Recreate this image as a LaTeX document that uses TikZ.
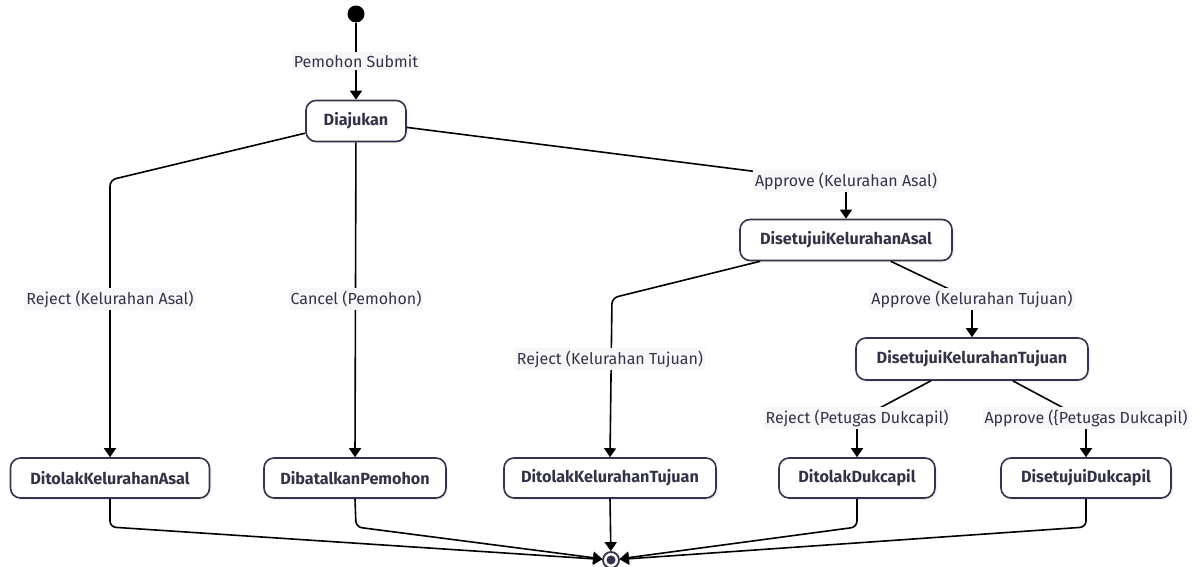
\documentclass[tikz,border=0pt]{standalone}
\usepackage{fontspec}
\setmainfont{Fira Sans}
\usetikzlibrary{arrows.meta,shadows}
\definecolor{boxline}{HTML}{33334D}
\definecolor{txt}{HTML}{333348}
\definecolor{lblbg}{HTML}{F7F7F9}
\begin{document}
\begin{tikzpicture}[x=1pt,y=-1pt,
  state/.style={draw=boxline, line width=1.6pt, fill=white, rounded corners=10pt,
    minimum height=41pt, inner sep=0pt, text=txt,
    font=\fontsize{16.2}{19}\selectfont\bfseries,
    drop shadow={opacity=0.12, shadow xshift=2pt, shadow yshift=-2pt}},
  lbl/.style={fill=lblbg, inner xsep=2pt, inner ysep=3pt, text=txt,
    font=\fontsize{16}{19}\selectfont},
  edge/.style={draw=black, line width=1.6pt, rounded corners=6pt},
  arr/.style={edge, -{Triangle[length=9pt,width=12pt]}}]
\useasboundingbox (0,0) rectangle (1202,567);

% start and end pseudo-states
\node[circle, fill=black, minimum size=17pt, inner sep=0pt] (start) at (356,14) {};
\node[circle, draw=boxline, line width=1.8pt, fill=white, minimum size=16pt, inner sep=0pt] (fin) at (611,560) {};
\fill[boxline] (fin.center) circle (4.5pt);

% states
\node[state, minimum width=100pt] (dj)   at (356,121) {Diajukan};
\node[state, minimum width=212pt] (dska) at (846,240) {DisetujuiKelurahanAsal};
\node[state, minimum width=232pt, minimum height=42pt] (dskt) at (972,359) {DisetujuiKelurahanTujuan};
\node[state, minimum width=199pt, minimum height=40pt] (dka)  at (110,478) {DitolakKelurahanAsal};
\node[state, minimum width=182pt, minimum height=40pt] (dp)   at (355,478) {DibatalkanPemohon};
\node[state, minimum width=212pt, minimum height=40pt] (dkt)  at (610,478) {DitolakKelurahanTujuan};
\node[state, minimum width=156pt, minimum height=40pt] (dd)   at (857,478) {DitolakDukcapil};
\node[state, minimum width=170pt, minimum height=40pt] (dsd)  at (1086,478) {DisetujuiDukcapil};

% transitions
\draw[arr] (start) -- (dj);
\draw[arr] (dj) -- (110,180) -- (dka.north);
\draw[arr] (dj) -- (dp.north);
\draw[arr] (dj) -- (846,183) -- (dska.north);
\draw[arr] (dska) -- (612,298) -- (dkt.north);
\draw[arr] (dska) -- (972,300) -- (dskt.north);
\draw[arr] (dskt) -- (857,420) -- (dd.north);
\draw[arr] (dskt) -- (1086,420) -- (dsd.north);

% transitions into the final state
\draw[arr] (dka.south) -- (110,527) -- (fin);
\draw[arr] (dp.south) -- (356,527) -- (fin);
\draw[arr] (dkt.south) -- (fin);
\draw[arr] (dd.south) -- (857,527) -- (fin);
\draw[arr] (dsd.south) -- (1086,527) -- (fin);

% transition labels
\node[lbl] (l1) at (356,61)  {Pemohon Submit};
\node[lbl] (l2) at (110,299) {Reject (Kelurahan Asal)};
\node[lbl] (l3) at (356,299) {Cancel (Pemohon)};
\node[lbl] (l4) at (846,181) {Approve (Kelurahan Asal)};
\node[lbl] (l5) at (610,359) {Reject (Kelurahan Tujuan)};
\node[lbl] (l6) at (972,299) {Approve (Kelurahan Tujuan)};
\node[lbl] (l7) at (857,418) {Reject (Petugas Dukcapil)};
\node[lbl] (l8) at (1086,418) {Approve (\{Petugas Dukcapil)};
\end{tikzpicture}
\end{document}
